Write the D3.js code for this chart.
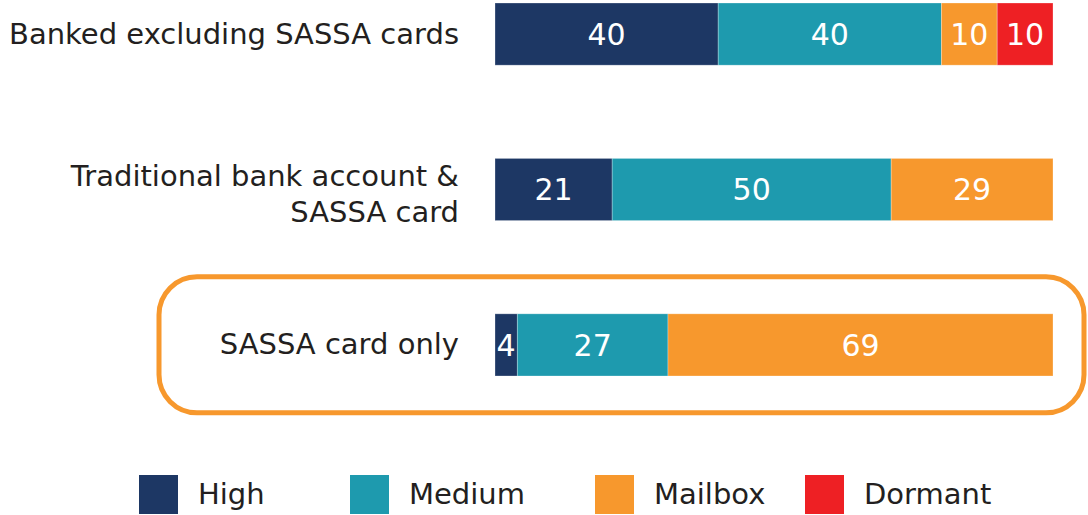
<!DOCTYPE html>
<html><head><meta charset="utf-8">
<script src="https://cdn.jsdelivr.net/npm/d3@7"></script>
<style>body{margin:0;background:#fff}svg{display:block}</style>
</head><body><svg id="c" width="1088" height="515"></svg>
<script>
const categories = ["Banked excluding SASSA cards", "Traditional bank account & SASSA card", "SASSA card only"];
const categoryLines = [["Banked excluding SASSA cards"], ["Traditional bank account &", "SASSA card"], ["SASSA card only"]];
const seriesNames = ["High", "Medium", "Mailbox", "Dormant"];
const high = [40, 21, 4];
const medium = [40, 50, 27];
const mailbox = [10, 29, 69];
const dormant = [10, 0, 0];
const colors = ["#1D3764", "#1E9AAE", "#F7982D", "#EE2024"];

const font = "'DejaVu Sans', sans-serif";
const svg = d3.select("#c");
const x = d3.scaleLinear().domain([0, 100]).range([495, 1053]);
const y = d3.scaleBand().domain(categories).range([3, 376]).paddingInner(0.6).paddingOuter(0);

const rows = categories.map((c, i) => ({cat: c, High: high[i], Medium: medium[i], Mailbox: mailbox[i], Dormant: dormant[i]}));
const stacked = d3.stack().keys(seriesNames)(rows);

// highlight box
const hb = y(categories[2]);
svg.append("rect").attr("x", 159).attr("y", hb - 37).attr("width", 925).attr("height", 136)
  .attr("rx", 38).attr("fill", "none").attr("stroke", "#F7982D").attr("stroke-width", 5);

stacked.forEach((s, si) => {
  const g = svg.append("g");
  s.forEach(d => {
    const v = d[1] - d[0];
    if (v <= 0) return;
    g.append("rect").attr("x", x(d[0])).attr("y", y(d.data.cat)).attr("width", x(d[1]) - x(d[0]))
      .attr("height", y.bandwidth()).attr("fill", colors[si])
      .attr("stroke", "rgba(255,255,255,0.35)").attr("stroke-width", 0.8);
    g.append("text").attr("x", (x(d[0]) + x(d[1])) / 2).attr("y", y(d.data.cat) + y.bandwidth() / 2)
      .attr("dy", "0.36em").attr("text-anchor", "middle").attr("fill", "#fff")
      .attr("font-family", font).attr("font-size", 30).text(v);
  });
});

categoryLines.forEach((lines, i) => {
  const cy = y(categories[i]) + y.bandwidth() / 2 + (lines.length > 1 ? 4 : -1);
  const lh = 36;
  lines.forEach((t, j) => {
    svg.append("text").attr("x", 459).attr("y", cy + (j - (lines.length - 1) / 2) * lh)
      .attr("dy", "0.36em").attr("text-anchor", "end").attr("fill", "#231F20")
      .attr("font-family", font).attr("font-size", 29).text(t);
  });
});

const legendX = [139, 350, 595, 805];
seriesNames.forEach((n, i) => {
  svg.append("rect").attr("x", legendX[i]).attr("y", 475).attr("width", 39).attr("height", 39).attr("fill", colors[i]);
  svg.append("text").attr("x", legendX[i] + 59).attr("y", 494).attr("dy", "0.36em")
    .attr("fill", "#231F20").attr("font-family", font).attr("font-size", 29).text(n);
});
</script></body></html>
